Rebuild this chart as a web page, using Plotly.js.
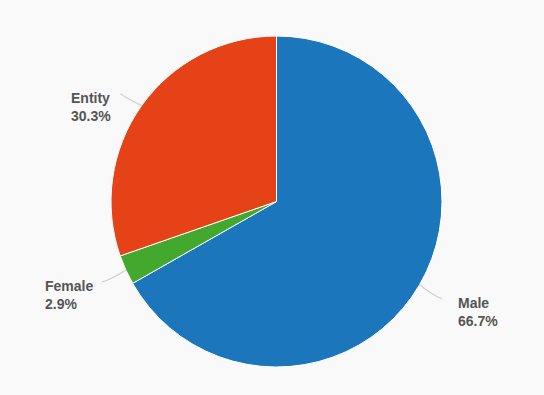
<!DOCTYPE html>
<html>
<head>
<meta charset="utf-8">
<script src="https://cdn.plot.ly/plotly-3.0.1.min.js"></script>
<style>html,body{margin:0;padding:0;background:#f9f9f9;}</style>
</head>
<body>
<div id="chart" style="width:544px;height:395px;"></div>
<script>
const labels = ["Male", "Female", "Entity"];
const values = [66.7, 2.9, 30.3];
const percentLabels = ["66.7%", "2.9%", "30.3%"];
const colors = ["#1b76bc", "#42a92e", "#e54217"];

const W = 544, H = 395;
const domX = [111 / W, 442 / W];
const domY = [28 / H, 359 / H];

// geometry derived from the domain (pixels)
const cx = (domX[0] + domX[1]) / 2 * W;
const cy = (1 - (domY[0] + domY[1]) / 2) * H;
const R = Math.min((domX[1] - domX[0]) * W, (domY[1] - domY[0]) * H) / 2;

const total = values.reduce((a, b) => a + b, 0);
const shapes = [], annotations = [];
let cum = 0;
values.forEach((v, i) => {
  const mid = (cum + v / 2) / total * 2 * Math.PI; // clockwise from top
  cum += v;
  const dx = Math.sin(mid), dy = -Math.cos(mid);
  const p0 = [cx + R * dx, cy + R * dy];
  const p1 = [cx + (R + 26) * dx, cy + (R + 24) * dy + 2];
  const c = [cx + (R + 16) * dx, cy + (R + 16) * dy + 3];
  const px = x => x / W, py = y => 1 - y / H;
  shapes.push({
    type: "path", xref: "paper", yref: "paper",
    path: `M ${px(p0[0])} ${py(p0[1])} Q ${px(c[0])} ${py(c[1])} ${px(p1[0])} ${py(p1[1])}`,
    line: {color: "#d0d0d0", width: 1.2}
  });
  const right = dx > 0;
  annotations.push({
    xref: "paper", yref: "paper",
    x: px(p1[0]), y: py(p1[1]),
    xanchor: right ? "left" : "right", yanchor: "top",
    xshift: right ? 14 : -7, yshift: 6,
    align: "left", showarrow: false,
    text: "<b>" + labels[i] + "</b><br><b>" + percentLabels[i] + "</b>",
    font: {family: "Liberation Sans, Arial, sans-serif", size: 14, color: "#555555"}
  });
});

const data = [{
  type: "pie",
  labels: labels,
  values: values,
  sort: false,
  direction: "clockwise",
  rotation: 0,
  textinfo: "none",
  hoverinfo: "label+percent",
  marker: {colors: colors, line: {color: "#ffffff", width: 1}},
  domain: {x: domX, y: domY},
  showlegend: false
}];

const layout = {
  width: W, height: H,
  margin: {l: 0, r: 0, t: 0, b: 0},
  paper_bgcolor: "#f9f9f9",
  plot_bgcolor: "#f9f9f9",
  showlegend: false,
  shapes: shapes,
  annotations: annotations
};

Plotly.newPlot("chart", data, layout, {displayModeBar: false, staticPlot: true});
</script>
</body>
</html>
